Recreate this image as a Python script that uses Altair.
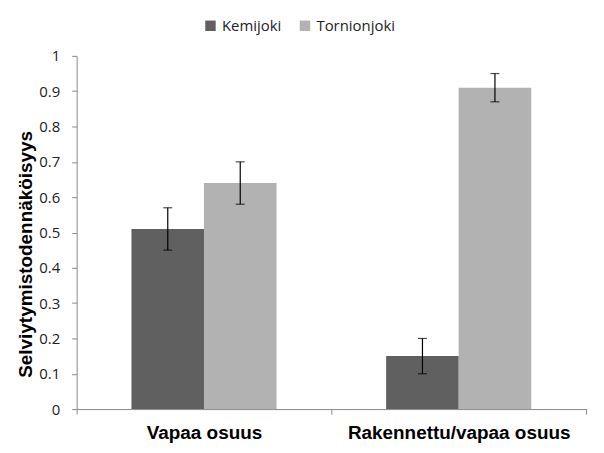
import altair as alt
import pandas as pd

categories = ["Vapaa osuus", "Vapaa osuus", "Rakennettu/vapaa osuus", "Rakennettu/vapaa osuus"]
series = ["Kemijoki", "Tornionjoki", "Kemijoki", "Tornionjoki"]
values = [0.51, 0.64, 0.15, 0.91]
err_low = [0.45, 0.58, 0.10, 0.87]
err_high = [0.57, 0.70, 0.20, 0.95]
yticks = [0, 0.1, 0.2, 0.3, 0.4, 0.5, 0.6, 0.7, 0.8, 0.9, 1]

df = pd.DataFrame({"cat": categories, "series": series, "value": values,
                   "lo": err_low, "hi": err_high})

cat_order = ["Vapaa osuus", "Rakennettu/vapaa osuus"]
ser_order = ["Kemijoki", "Tornionjoki"]
ytitle = "Selviytymistodennäköisyys"

xscale = alt.Scale(paddingInner=0, paddingOuter=0)
offscale = alt.Scale(paddingInner=0, paddingOuter=0.757)
yscale = alt.Scale(domain=[0, 1])

xaxis = alt.Axis(labelAngle=0, labelFont="Liberation Sans", labelFontWeight="bold",
                 labelFontSize=19, labelColor="black", labelPadding=10, labelLimit=0,
                 domainColor="#888888", tickColor="#888888", tickSize=5,
                 tickBand="extent", ticks=True)
yaxis = alt.Axis(values=yticks, format="~g", grid=False, labelFont="Open Sans", labelFontSize=15,
                 labelColor="#222222", labelPadding=12, labelOverlap=False,
                 domainColor="#888888", tickColor="#888888", tickSize=5,
                 titleFont="Liberation Sans", titleFontSize=19, titleFontWeight="bold",
                 titleColor="black", titlePadding=3, titleY=199)

bars = alt.Chart(df).mark_bar(size=73).encode(
    x=alt.X("cat:N", sort=cat_order, title=None, scale=xscale, axis=xaxis),
    xOffset=alt.XOffset("series:N", sort=ser_order, scale=offscale),
    y=alt.Y("value:Q", scale=yscale, title=ytitle, axis=yaxis),
    color=alt.Color("series:N", sort=ser_order, title=None,
                    scale=alt.Scale(domain=ser_order, range=["#606060", "#b2b2b2"]),
                    legend=alt.Legend(orient="none", legendX=127, legendY=-38, direction="horizontal",
                                      symbolType="square", symbolSize=110, symbolStrokeWidth=0,
                                      labelFont="Open Sans", labelFontSize=15, labelColor="#222222",
                                      columnPadding=16, symbolOpacity=1)),
)

errs = alt.Chart(df).mark_errorbar(ticks=alt.MarkConfig(size=9, color="black"), color="black",
                                   thickness=1.2).encode(
    x=alt.X("cat:N", sort=cat_order, title=None, scale=xscale, axis=xaxis),
    xOffset=alt.XOffset("series:N", sort=ser_order, scale=offscale),
    y=alt.Y("lo:Q", scale=yscale, title=ytitle, axis=yaxis),
    y2="hi:Q",
)

chart = alt.layer(bars, errs).properties(
    width=512, height=355,
    autosize=alt.AutoSizeParams(type="none"),
    padding={"left": 69, "top": 47, "right": 10, "bottom": 40},
).configure_view(stroke=None)

chart.save("out.html", embed_options={"renderer": "svg", "actions": False})
